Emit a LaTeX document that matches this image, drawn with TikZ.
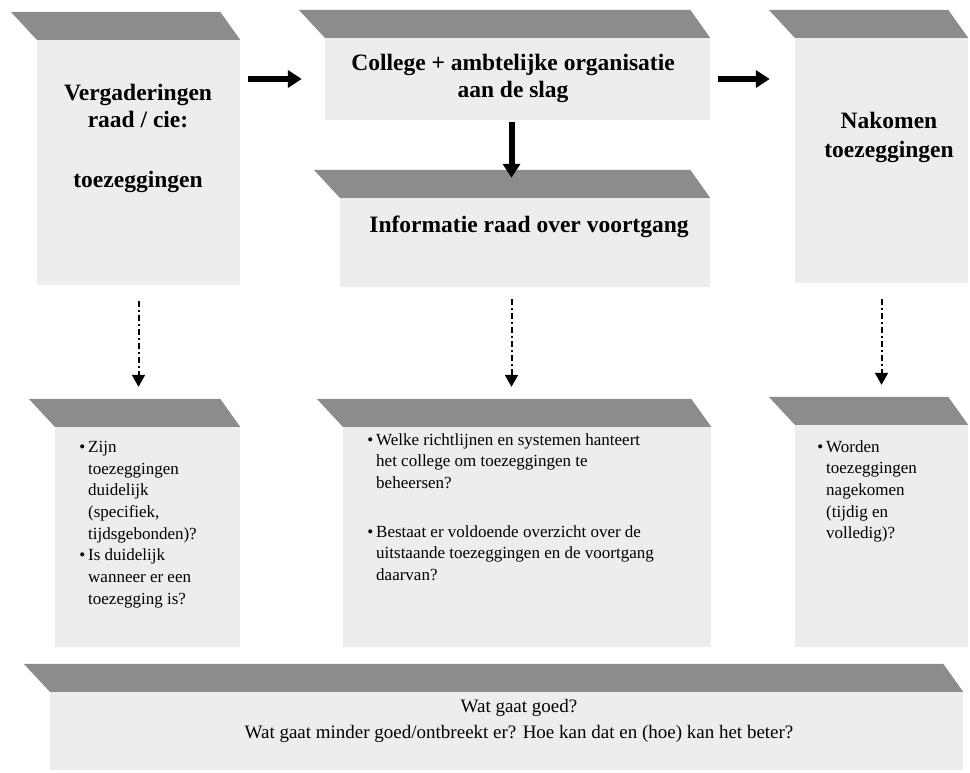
\documentclass[tikz,border=0pt]{standalone}
\usepackage{fontspec}
\setmainfont{Liberation Serif}
\usetikzlibrary{arrows.meta}

% grey tab on top of a box
\newcommand\tabband[1]{%
  \fill [band] ([xshift=-26pt,yshift=28pt]#1.north west) --
    ([xshift=-20pt,yshift=28pt]#1.north east) -- (#1.north east) --
    (#1.north west) -- cycle;}

\begin{document}
\begin{tikzpicture}
[x=1pt,y=-1pt,
 body/.style={rectangle,fill=black!7,inner sep=0pt},
 band/.style={fill=black!45},
 title/.style={font=\fontsize{23.5}{27}\selectfont\bfseries,align=center,
   anchor=north,inner sep=0pt},
 question/.style={font=\fontsize{17}{21.7}\selectfont,align=left,
   anchor=north west,inner sep=0pt},
 flow/.style={-{Triangle[length=14pt,width=17pt]},line width=6pt},
 check/.style={-{Triangle[length=12pt,width=13pt]},line width=2pt,
   dash pattern=on 6pt off 3pt on 2pt off 3pt}]
\useasboundingbox (0,0) rectangle (970,772);

% upper row
\node [body,minimum width=203pt,minimum height=245pt] (verg) at (138.5,162.5) {};
\node [body,minimum width=385pt,minimum height=82pt] (coll) at (517.5,79) {};
\node [body,minimum width=370pt,minimum height=89pt] (info) at (525,242.5) {};
\node [body,minimum width=173pt,minimum height=245pt] (nako) at (881.5,160.5) {};
\tabband{verg}
\tabband{coll}
\tabband{info}
\tabband{nako}

\node [title] (vergtext) at (138,84) {Vergaderingen\\raad / cie:\\[33pt]toezeggingen};
\node [title] (colltext) at (513,54) {College + ambtelijke organisatie\\aan de slag};
\node [title] (infotext) at (529,216) {Informatie raad over voortgang};
\node [title] (nakotext) at (889,112) {Nakomen\\[2pt]toezeggingen};

\coordinate (midcol) at ([xshift=-6pt]coll.south);
\draw [flow,shorten <=8pt,shorten >=23pt] (verg.east |- coll.west) -- (coll.west);
\draw [flow,shorten <=8pt,shorten >=25pt] (coll.east) -- (coll.east -| nako.west);
\draw [flow,shorten <=2pt,shorten >=20pt] (midcol) -- (midcol |- info.north);

% questions
\node [body,minimum width=185pt,minimum height=220pt] (vraag1) at (147.5,537) {};
\node [body,minimum width=368pt,minimum height=220pt] (vraag2) at (527,537) {};
\node [body,minimum width=173pt,minimum height=222pt] (vraag3) at (881.5,536) {};
\tabband{vraag1}
\tabband{vraag2}
\tabband{vraag3}

\node [question] (vraag1text) at (88,441)
  {\llap{\textbullet\,}Zijn\\toezeggingen\\duidelijk\\(specifiek,\\tijdsgebonden)?\\
   \llap{\textbullet\,}Is duidelijk\\wanneer er een\\toezegging is?};
\node [question] (vraag2text) at (376,433)
  {\llap{\textbullet\,}Welke richtlijnen en systemen hanteert\\het college om toezeggingen te\\beheersen?\\[27pt]
   \llap{\textbullet\,}Bestaat er voldoende overzicht over de\\uitstaande toezeggingen en de voortgang\\daarvan?};
\node [question] (vraag3text) at (826,440)
  {\llap{\textbullet\,}Worden\\toezeggingen\\nagekomen\\(tijdig en\\volledig)?};

\draw [check,shorten <=16pt,shorten >=40pt] (verg.south) -- (verg.south |- vraag1.north);
\draw [check,shorten <=12pt,shorten >=40pt] (midcol |- info.south) -- (midcol |- vraag2.north);
\draw [check,shorten <=16pt,shorten >=40pt] (nako.south) -- (nako.south |- vraag3.north);

% evaluation
\node [body,minimum width=913pt,minimum height=78pt] (eval) at (506.5,731) {};
\tabband{eval}
\node [question,anchor=north,align=center,font=\fontsize{19}{26}\selectfont]
  (evaltext) at (519,699)
  {Wat gaat goed?\\Wat gaat minder goed/ontbreekt er? Hoe kan dat en (hoe) kan het beter?};
\end{tikzpicture}
\end{document}
